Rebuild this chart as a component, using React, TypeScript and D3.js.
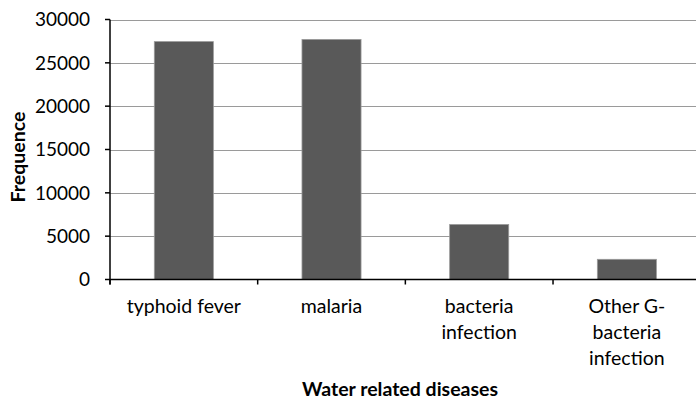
import React from "react";
import * as d3 from "d3";

const categories: string[][] = [
  ["typhoid fever"],
  ["malaria"],
  ["bacteria", "infection"],
  ["Other G-", "bacteria", "infection"],
];
const values: number[] = [27450, 27700, 6350, 2330];
const yTicks: number[] = [0, 5000, 10000, 15000, 20000, 25000, 30000];
const xTitle = "Water related diseases";
const yTitle = "Frequence";

const W = 696;
const H = 403;
const left = 110;
const right = 700.7;
const top = 19.5;
const bottom = 279.5;
const font = "Lato, 'Open Sans', sans-serif";

export default function App() {
  const keys = categories.map((c) => c.join(" "));
  const x = d3.scaleBand<string>().domain(keys).range([left, right]).paddingInner(0.6).paddingOuter(0.3);
  const y = d3.scaleLinear().domain([0, 30000]).range([bottom, top]);
  const step = x.step();
  const boundaries = d3.range(keys.length + 1).map((i) => left + i * step);

  return (
    <svg width={W} height={H} style={{ position: "absolute", left: 0, top: 0, background: "#fff" }}>
      <rect x={0} y={0} width={W} height={H} fill="#fff" />
      {yTicks.filter((t) => t > 0).map((t) => (
        <line key={"g" + t} x1={left} x2={right} y1={Math.round(y(t)) + 0.5} y2={Math.round(y(t)) + 0.5} stroke="#9a9a9a" strokeWidth={1.2} />
      ))}
      {values.map((v, i) => (
        <rect
          key={"b" + i}
          x={x(keys[i])!}
          y={y(v)}
          width={x.bandwidth()}
          height={y(0) - y(v)}
          fill="#595959"
          stroke="#9a9a9a"
          strokeWidth={0.8}
        />
      ))}
      {/* y axis */}
      <line x1={left} x2={left} y1={top} y2={bottom + 5} stroke="#000" strokeWidth={1.5} />
      {yTicks.map((t) => (
        <g key={"yt" + t}>
          <line x1={left - 5} x2={left} y1={y(t)} y2={y(t)} stroke="#000" strokeWidth={1.5} />
          <text x={90} y={y(t)} dy="0.36em" textAnchor="end" fontFamily={font} fontSize={19} fill="#000">
            {t}
          </text>
        </g>
      ))}
      {/* x axis */}
      <line x1={left} x2={right} y1={bottom} y2={bottom} stroke="#000" strokeWidth={1.5} />
      {boundaries.map((b, i) => (
        <line key={"xt" + i} x1={b} x2={b} y1={bottom} y2={bottom + 5} stroke="#000" strokeWidth={1.5} />
      ))}
      {categories.map((lines, i) => (
        <text key={"xl" + i} textAnchor="middle" fontFamily={font} fontSize={19.5} fill="#000">
          {lines.map((l, j) => (
            <tspan key={j} x={x(keys[i])! + x.bandwidth() / 2} y={313 + j * 25.8}>
              {l}
            </tspan>
          ))}
        </text>
      ))}
      <text x={400} y={396} textAnchor="middle" fontFamily={font} fontSize={19.5} fontWeight="bold" fill="#000">
        {xTitle}
      </text>
      <text
        transform={`translate(25,157) rotate(-90)`}
        textAnchor="middle"
        fontFamily={font}
        fontSize={19.5}
        fontWeight="bold"
        fill="#000"
      >
        {yTitle}
      </text>
    </svg>
  );
}
